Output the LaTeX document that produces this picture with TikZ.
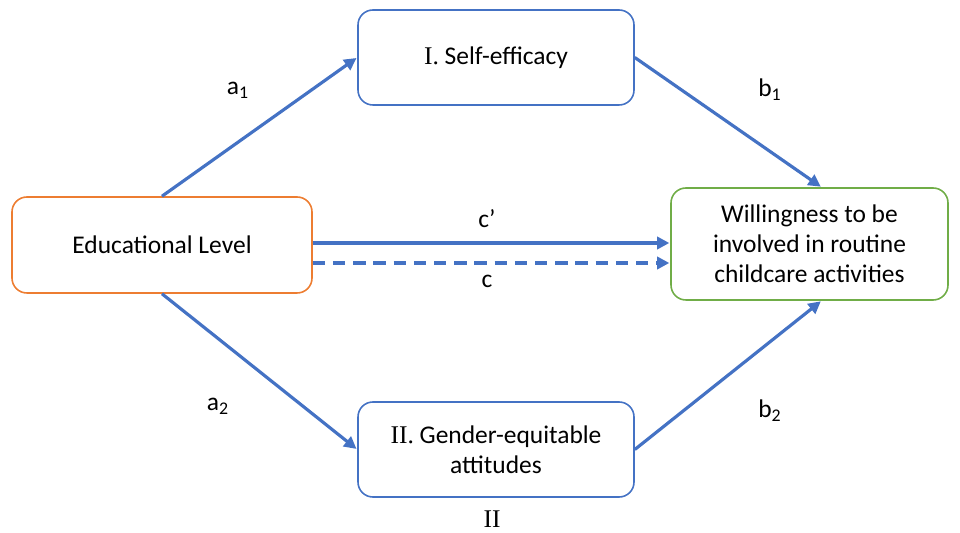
\documentclass[tikz,border=0pt]{standalone}
\usepackage{fontspec}
\setmainfont{Carlito}
\newfontfamily\romfont{Liberation Serif}
\usepackage{tikz}
\usetikzlibrary{arrows.meta}
\usetikzlibrary{calc}

\definecolor{lineblue}{HTML}{4472C4}
\definecolor{boxorange}{HTML}{ED7D31}
\definecolor{boxgreen}{HTML}{70AD47}

\tikzset{
    varbox/.style={draw, rounded corners=8.5pt, line width=0.9pt, align=center,
        font=\fontsize{14.5}{17}\selectfont, inner sep=0pt},
    path/.style={draw=lineblue, line width=1.8pt,
        -{Triangle[length=7pt,width=7pt]}, shorten >=0.5pt},
    coef/.style={font=\fontsize{14.5}{17}\selectfont}
}

\begin{document}
\begin{tikzpicture}[x=0.02cm, y=-0.02cm]
                    \useasboundingbox (0,0) rectangle (960,533);
                    \node[varbox, draw=boxorange, minimum width=300*0.02cm, minimum height=96*0.02cm] (edu) at (162,245) {Educational Level};
                    \node[varbox, draw=lineblue, minimum width=276*0.02cm, minimum height=95*0.02cm] (self) at (496,57.5) {{\romfont I.} Self-efficacy};
                    \node[varbox, draw=lineblue, minimum width=276*0.02cm, minimum height=95*0.02cm] (gender) at (496,449.5) {{\romfont II.} Gender-equitable\\attitudes};
                    \node[varbox, draw=boxgreen, minimum width=277*0.02cm, minimum height=112*0.02cm] (will) at (809.5,244) {Willingness to be\\involved in routine\\childcare activities};
                    \draw[path] (edu.north) -- (self.west);
                    \draw[path] (self.east) -- ([xshift=0.24cm]will.north);
                    \draw[path] (edu.south) -- (gender.west);
                    \draw[path] (gender.east) -- ([xshift=0.24cm]will.south);
                    \draw[path] ([yshift=0.04cm]edu.east) -- ([yshift=0.04cm]edu.east -| will.west);
                    \draw[path, dash pattern=on 7pt off 4.5pt] ([yshift=-0.36cm]edu.east) -- ([yshift=-0.36cm]edu.east -| will.west);
                    \node[coef] (a1) at (238,90) {a\textsubscript{1}};
                    \node[coef] (b1) at (770,90) {b\textsubscript{1}};
                    \node[coef] (cp) at (487,219) {c’};
                    \node[coef] (c) at (487,281) {c};
                    \node[coef] (a2) at (218,406) {a\textsubscript{2}};
                    \node[coef] (b2) at (770,411) {b\textsubscript{2}};
                    \node[coef, font=\romfont\fontsize{14.5}{17}\selectfont] (lab) at (492,519) {II};
                \end{tikzpicture}
\end{document}
